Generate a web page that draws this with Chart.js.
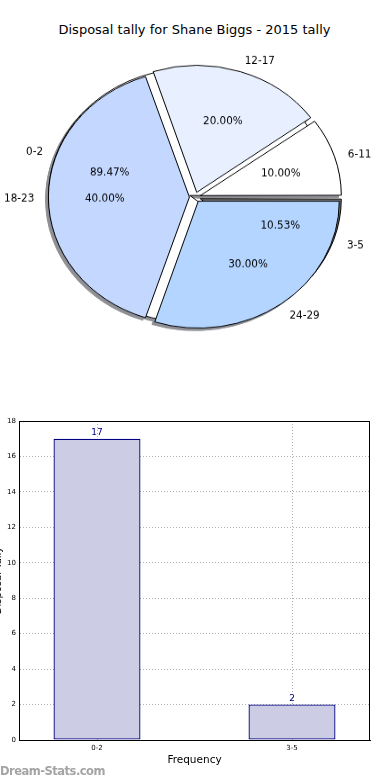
<!DOCTYPE html>
<html>
<head>
<meta charset="utf-8">
<script src="https://cdn.jsdelivr.net/npm/chart.js@4.4.1/dist/chart.umd.min.js"></script>
<style>
  body { margin: 0; background: #fff; width: 390px; height: 780px; overflow: hidden; position: relative; font-family: "DejaVu Sans", sans-serif; }
  #title { position: absolute; left: 0; top: 22px; width: 389px; text-align: center; font-size: 13px; line-height: 15px; color: #000; }
  #pieWrap { position: absolute; left: 0; top: 0; width: 390px; height: 438px; transform: scaleY(0.9); transform-origin: 0 0; }
  #bar { position: absolute; left: -8px; top: 400px; }
  #mark { position: absolute; left: 0; top: 764px; font-size: 11.5px; font-weight: bold; color: #a4a4a4; letter-spacing: -0.5px; }
</style>
</head>
<body>
<div id="title">Disposal tally for Shane Biggs - 2015 tally</div>
<div id="pieWrap"><canvas id="pie" width="390" height="438"></canvas></div>
<canvas id="bar" width="398" height="380"></canvas>
<div id="mark">Dream-Stats.com</div>
<script>
// first pie (drawn underneath)
const pieACats = ['0-2', '3-5'];
const pieAValues = [17, 2];
const pieAColors = ['#ffffff', '#7a7a7a'];

// second pie (drawn on top)
const pieBCats = ['6-11', '12-17', '18-23', '24-29'];
const pieBValues = [1, 2, 4, 3];
const pieBColors = ['#ffffff', '#e8f0ff', '#c4d8ff', '#b3d5ff'];

// bar chart
const barCats = ['0-2', '3-5'];
const barCounts = [17, 2];
const yMax = 18;
const yStep = 2;

const R = 141;          // pie radius
const EXPLODE = 22.4;   // arc offset, chart.js moves the slice offset/4 px
const SQUASH = 0.9;     // pie canvas is squashed vertically by css
const TEXT_DROP = 2;    // matplotlib centres text a little lower

// chart.js goes clockwise from east when rotation = 90, matplotlib counter-clockwise
function rev(a) { return a.slice().reverse(); }

const pieFix = {
  id: 'pieFix',
  beforeDatasetsDraw(chart) {
    const ctx = chart.ctx;
    const arcs = [];
    // both datasets use the full radius so they overlap like two pies
    chart.data.datasets.forEach((ds, i) => {
      chart.getDatasetMeta(i).data.forEach(arc => {
        const circ = arc.endAngle - arc.startAngle;
        arc.innerRadius = 0;
        arc.outerRadius = R - EXPLODE / 4 * (1 - Math.sin(Math.min(Math.PI, circ)));
        arcs.push(arc);
      });
    });
    // shadows under every slice: draw far off canvas, only the shadow lands here
    ctx.save();
    ctx.shadowColor = '#8e9096';
    ctx.shadowBlur = 0;
    ctx.shadowOffsetX = 10000 - 2.8;
    ctx.shadowOffsetY = 2.8;
    ctx.translate(-10000, 0);
    arcs.forEach(arc => arc.draw(ctx));
    ctx.restore();
  },
  afterDraw(chart) {
    const ctx = chart.ctx;
    function put(t, x, y, align) {
      ctx.save();
      ctx.translate(x, y);
      ctx.scale(1, 1 / SQUASH);
      ctx.textAlign = align;
      ctx.textBaseline = 'middle';
      ctx.fillText(t, 0, TEXT_DROP);
      ctx.restore();
    }
    ctx.save();
    ctx.font = '10.4px "DejaVu Sans"';
    ctx.fillStyle = '#000';
    chart.data.datasets.forEach((ds, i) => {
      const total = ds.data.reduce((a, b) => a + b, 0);
      chart.getDatasetMeta(i).data.forEach((arc, j) => {
        const mid = (arc.startAngle + arc.endAngle) / 2;
        const c = Math.cos(mid), s = Math.sin(mid);
        const cx = arc.x + c * EXPLODE / 4, cy = arc.y + s * EXPLODE / 4;
        put(ds.names[j], cx + c * R * 1.1, cy + s * R * 1.1, c > 0 ? 'left' : 'right');
        put((ds.data[j] / total * 100).toFixed(2) + '%', cx + c * R * 0.6, cy + s * R * 0.6, 'center');
      });
    });
    ctx.restore();
  }
};

new Chart(document.getElementById('pie'), {
  type: 'pie',
  data: {
    datasets: [
      { data: rev(pieBValues), names: rev(pieBCats), backgroundColor: rev(pieBColors) },
      { data: rev(pieAValues), names: rev(pieACats), backgroundColor: rev(pieAColors) }
    ]
  },
  options: {
    responsive: false,
    animation: false,
    events: [],
    rotation: 90,
    radius: R,
    layout: { padding: 0 },
    elements: { arc: { borderColor: '#000', borderWidth: 1, offset: EXPLODE, borderJoinStyle: 'miter' } },
    plugins: { legend: { display: false }, tooltip: { enabled: false } }
  },
  plugins: [pieFix]
});

const tickFont = { family: 'DejaVu Sans', size: 7 };

const barExtras = {
  id: 'barExtras',
  afterDraw(chart) {
    const ctx = chart.ctx;
    const a = chart.chartArea;
    ctx.save();
    ctx.strokeStyle = '#000';
    ctx.lineWidth = 1;
    ctx.strokeRect(Math.round(a.left) + 0.5, Math.round(a.top) + 0.5, Math.round(a.right - a.left) - 1, Math.round(a.bottom - a.top));
    ctx.font = '9px "DejaVu Sans"';
    ctx.fillStyle = '#000080';
    ctx.textAlign = 'center';
    ctx.textBaseline = 'alphabetic';
    chart.getDatasetMeta(0).data.forEach((bar, i) => {
      ctx.fillText(String(barCounts[i]), bar.x, bar.y - 4);
    });
    ctx.restore();
  }
};

new Chart(document.getElementById('bar'), {
  type: 'bar',
  data: {
    datasets: [{
      data: barCounts.map((v, i) => ({ x: i, y: v })),
      backgroundColor: '#ccccE5',
      borderColor: '#000080',
      borderWidth: 1.3,
      borderSkipped: false,
      categoryPercentage: 1,
      barPercentage: 0.446
    }]
  },
  options: {
    responsive: false,
    animation: false,
    events: [],
    layout: { padding: { top: 21, right: 20, left: 0, bottom: 0 } },
    plugins: { legend: { display: false }, tooltip: { enabled: false } },
    scales: {
      x: {
        type: 'linear',
        min: -0.4,
        max: 1.4,
        offset: false,
        z: 1,
        afterBuildTicks: s => { s.ticks = barCats.map((c, i) => ({ value: i })); },
        afterFit: s => { s.height = 40; },
        ticks: { callback: v => barCats[v], font: tickFont, color: '#000', padding: 4, maxRotation: 0 },
        grid: { color: '#b0b0b0', drawTicks: false, offset: false },
        border: { color: '#000', dash: [1, 2] },
        title: { display: true, text: 'Frequency', font: { family: 'DejaVu Sans', size: 10.5 }, color: '#000', padding: { top: 0, bottom: 13 } }
      },
      y: {
        min: 0,
        max: yMax,
        z: 1,
        afterFit: s => { s.width = 27; },
        ticks: { stepSize: yStep, font: tickFont, color: '#000', padding: 3 },
        grid: { color: '#b0b0b0', drawTicks: false },
        border: { color: '#000', dash: [1, 2] },
        title: { display: true, text: 'Disposal Tally', font: { family: 'DejaVu Sans', size: 10 }, color: '#000', padding: { top: 0, bottom: 0 } }
      }
    }
  },
  plugins: [barExtras]
});
</script>
</body>
</html>
